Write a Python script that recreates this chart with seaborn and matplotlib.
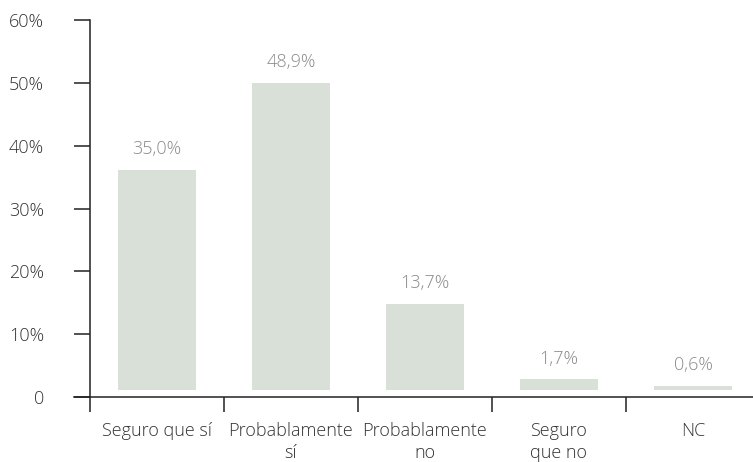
import matplotlib
matplotlib.use("Agg")
import matplotlib.pyplot as plt
import seaborn as sns
import pandas as pd

categories = ["Seguro que sí", "Probablamente\nsí", "Probablamente\nno", "Seguro\nque no", "NC"]
values = [35.0, 48.9, 13.7, 1.7, 0.6]
value_labels = ["35,0%", "48,9%", "13,7%", "1,7%", "0,6%"]
y_ticks = [0, 10, 20, 30, 40, 50, 60]
y_tick_labels = ["0", "10%", "20%", "30%", "40%", "50%", "60%"]

bar_color = "#d8e0d8"
text_dark = "#333333"
text_grey = "#8a8a8a"
base = 1.1  # bars sit slightly above the baseline
fs = 13

sns.set_theme(style="white")
plt.rcParams["font.family"] = ["Open Sans", "DejaVu Sans"]
plt.rcParams["font.weight"] = "light"

W, H = 753, 462
fig = plt.figure(figsize=(W / 100, H / 100), dpi=100)
ax = fig.add_axes([74 / W, (H - 397) / H, (753 - 74) / W, (397 - 20) / H])

df = pd.DataFrame({"cat": categories, "val": values})
sns.barplot(data=df, x="cat", y="val", color=bar_color, width=0.58,
            bottom=base, saturation=1, ax=ax, linewidth=0)

ax.set_xlim(-0.619, 4.448)
ax.set_ylim(0, 60)

for i, (v, lab) in enumerate(zip(values, value_labels)):
    ax.annotate(lab, (i, v + base), xytext=(0, 15), textcoords="offset points",
                ha="center", va="center", color=text_grey, fontsize=fs)

# spines
for s in ["top", "right"]:
    ax.spines[s].set_visible(False)
ax.spines["left"].set_position(("data", -0.5))
ax.spines["left"].set_bounds(0, 60)
for s in ["left", "bottom"]:
    ax.spines[s].set_color("#222222")
    ax.spines[s].set_linewidth(1.1)

ax.set_yticks(y_ticks)
ax.set_yticklabels(y_tick_labels)
ax.tick_params(axis="y", direction="out", length=11.5, width=1.1, color="#222222",
               pad=21.5, labelsize=fs, labelcolor=text_dark, left=True)

ax.set_xticks([i - 0.5 for i in range(len(categories))])
ax.set_xticklabels([])
ax.set_xticks(range(len(categories)), minor=True)
ax.set_xticklabels(categories, minor=True)
ax.tick_params(axis="x", which="major", direction="out", length=11, width=1.1,
               color="#222222", bottom=True)
ax.tick_params(axis="x", which="minor", length=0, pad=18, labelsize=fs,
               labelcolor=text_dark)
for t in ax.get_xticklabels(minor=True):
    t.set_linespacing(1.3)

ax.set_xlabel("")
ax.set_ylabel("")

fig.savefig("out.png", dpi=100)
